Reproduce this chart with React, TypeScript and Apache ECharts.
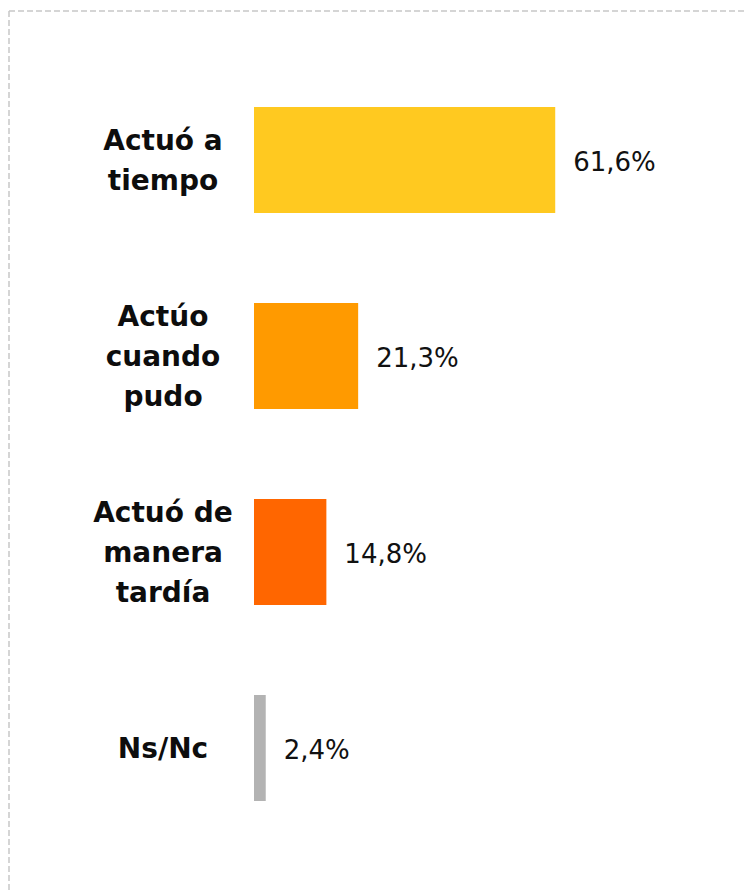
import React, { useEffect, useRef } from "react";
import * as echarts from "echarts";

const categories = ["Actuó a\ntiempo", "Actúo\ncuando\npudo", "Actuó de\nmanera\ntardía", "Ns/Nc"];
const values = [61.6, 21.3, 14.8, 2.4];
const colors = ["#FFC920", "#FF9A00", "#FF6600", "#B3B3B3"];

export default function App() {
  const ref = useRef<HTMLDivElement>(null);
  useEffect(() => {
    const chart = echarts.init(ref.current!, undefined, { renderer: "svg" });
    chart.setOption({
      animation: false,
      backgroundColor: "#ffffff",
      grid: { left: 254, top: 62, width: 489, height: 784, containLabel: false },
      xAxis: { type: "value", min: 0, max: 100, show: false },
      yAxis: {
        type: "category",
        data: categories,
        inverse: true,
        axisLine: { show: false },
        axisTick: { show: false },
        axisLabel: {
          align: "center",
          margin: 91,
          fontFamily: "DejaVu Sans",
          fontWeight: "bold",
          fontSize: 28,
          lineHeight: 40,
          color: "#0d0d0d",
        },
      },
      series: [
        {
          type: "bar",
          data: values.map((v, i) => ({ value: v, itemStyle: { color: colors[i] } })),
          barCategoryGap: "46%",
          label: {
            show: true,
            position: "right",
            distance: 18,
            offset: [0, 2],
            fontFamily: "DejaVu Sans",
            fontWeight: "normal",
            fontSize: 26,
            color: "#111111",
            formatter: (p: any) => String(p.value).replace(".", ",") + "%",
          },
        },
      ],
      graphic: [
        { type: "line", shape: { x1: 9, y1: 11, x2: 746, y2: 11 }, style: { stroke: "#c8c8c8", lineWidth: 1.5, lineDash: [6, 3] } },
        { type: "line", shape: { x1: 9, y1: 11, x2: 9, y2: 893 }, style: { stroke: "#c8c8c8", lineWidth: 1.5, lineDash: [6, 3] } },
      ],
    });
    return () => chart.dispose();
  }, []);
  return <div ref={ref} style={{ position: "absolute", left: 0, top: 0, width: 746, height: 893 }} />;
}
